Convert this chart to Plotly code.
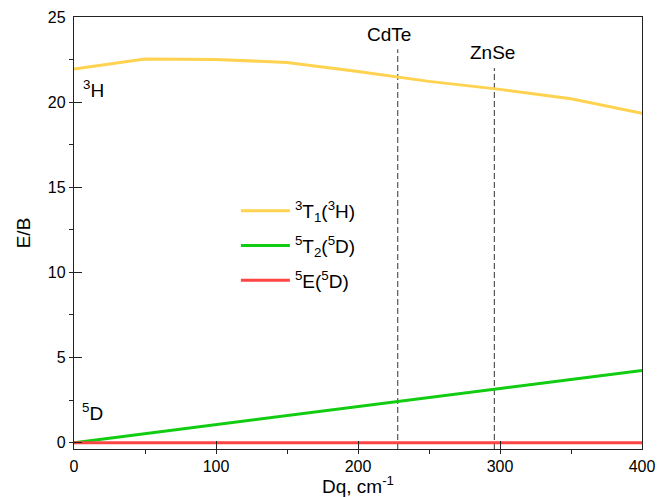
import plotly.graph_objects as go

dq = [0, 50, 100, 150, 200, 250, 300, 350, 400]
e_3t1 = [21.95, 22.53, 22.51, 22.33, 21.8, 21.22, 20.75, 20.2, 19.35]
e_5t2 = [0.0, 0.53, 1.06, 1.59, 2.12, 2.65, 3.18, 3.71, 4.24]
e_5e = [0, 0, 0, 0, 0, 0, 0, 0, 0]

names = ["<sup>3</sup>T<sub>1</sub>(<sup>3</sup>H)",
         "<sup>5</sup>T<sub>2</sub>(<sup>5</sup>D)",
         "<sup>5</sup>E(<sup>5</sup>D)"]
colors = ["#FFD24F", "#11CC11", "#FF4444"]

crystals = ["CdTe", "ZnSe"]
crystal_dq = [228, 296]
crystal_top = [23.1, 22.0]
crystal_label_y = [24.0, 22.93]
crystal_label_dq = [222, 295]

y_min, y_max = -0.37, 25

fig = go.Figure()
for x0, top in zip(crystal_dq, crystal_top):
    fig.add_trace(go.Scatter(x=[x0, x0], y=[y_min, top], mode="lines",
                             line=dict(color="#333333", width=1, dash="6px,3px"),
                             showlegend=False, hoverinfo="skip"))

for i, (ys, nm, c) in enumerate(zip([e_3t1, e_5t2, e_5e], names, colors)):
    fig.add_trace(go.Scatter(x=dq, y=ys, mode="lines", name=nm,
                             legendgroup=f"g{i}",
                             line=dict(color=c, width=3)))

for lbl, lx, ly in zip(crystals, crystal_label_dq, crystal_label_y):
    fig.add_annotation(x=lx, y=ly, text=lbl, showarrow=False,
                       font=dict(size=19, color="black"))

fig.add_annotation(x=5, y=20.76, text="<sup>3</sup>H", showarrow=False,
                   xanchor="left", font=dict(size=19, color="black"))
fig.add_annotation(x=4, y=1.8, text="<sup>5</sup>D", showarrow=False,
                   xanchor="left", font=dict(size=19, color="black"))

axis_common = dict(showline=True, linecolor="#222222", linewidth=1.3, mirror=True,
                   showgrid=False, zeroline=False, ticks="inside", ticklen=8,
                   tickcolor="#222222", tickwidth=1.2, automargin=False,
                   tickfont=dict(size=16, color="black"))

fig.update_xaxes(range=[0, 400], dtick=100, tick0=0,
                 minor=dict(ticks="outside", ticklen=4, dtick=50, tickcolor="#222222", tickwidth=1.2),
                 title=dict(text="Dq, cm<sup>-1</sup>", font=dict(size=19, color="black"), standoff=2),
                 ticklabelstandoff=3, **axis_common)
fig.update_yaxes(range=[y_min, y_max], dtick=5, tick0=0,
                 minor=dict(ticks="outside", ticklen=4, dtick=2.5, tickcolor="#222222", tickwidth=1.2),
                 title=dict(text="E/B", font=dict(size=19, color="black"), standoff=12),
                 ticklabelstandoff=4, **axis_common)

fig.update_layout(
    width=662, height=489,
    margin=dict(l=66, r=28, t=9, b=48),
    plot_bgcolor="white", paper_bgcolor="white",
    font=dict(family="Liberation Sans, Arial, sans-serif", color="black"),
    legend=dict(x=0.285, y=0.595, xanchor="left", yanchor="top",
                bgcolor="rgba(0,0,0,0)", font=dict(size=19, color="black"),
                tracegroupgap=7, itemwidth=49),
)

fig.write_html("out.html")
